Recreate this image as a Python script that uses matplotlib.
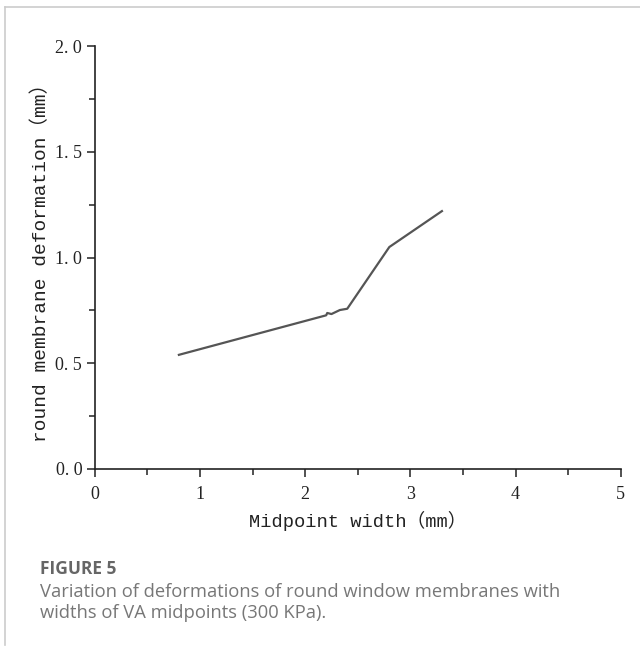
import matplotlib
matplotlib.use("Agg")
import matplotlib.pyplot as plt
from matplotlib.ticker import MultipleLocator
from matplotlib.lines import Line2D

# values
width_mm = [0.8, 2.2, 2.21, 2.25, 2.33, 2.4, 2.8, 3.3]
deform_mm = [0.54, 0.727, 0.738, 0.733, 0.752, 0.758, 1.05, 1.22]

xticks = [0, 1, 2, 3, 4, 5]
yticks = [0.0, 0.5, 1.0, 1.5, 2.0]
ytick_labels = ["0. 0", "0. 5", "1. 0", "1. 5", "2. 0"]

mono = ["Liberation Mono", "Noto Sans CJK SC", "DejaVu Sans"]
serif = ["Liberation Serif", "DejaVu Serif"]

fig = plt.figure(figsize=(6.4, 6.51), dpi=100)
ax = fig.add_axes([0.148, 0.2796, 0.822, 0.6494])

ax.plot(width_mm, deform_mm, color="#555555", lw=1.6)

ax.set_xlim(0, 5)
ax.set_ylim(0, 2.0)
ax.set_xticks(xticks)
ax.set_xticklabels([str(t) for t in xticks], family=serif, fontsize=13)
ax.set_yticks(yticks)
ax.set_yticklabels(ytick_labels, family=serif, fontsize=13)
ax.xaxis.set_minor_locator(MultipleLocator(0.5))
ax.yaxis.set_minor_locator(MultipleLocator(0.25))
ax.tick_params(which="major", direction="out", length=6, width=1.1, color="#222222", labelcolor="#222222")
ax.tick_params(which="minor", direction="out", length=4, width=1.1, color="#222222")
ax.tick_params(axis="x", pad=6)
ax.tick_params(axis="y", pad=3)
for s in ["top", "right"]:
    ax.spines[s].set_visible(False)
for s in ["left", "bottom"]:
    ax.spines[s].set_linewidth(1.2)
    ax.spines[s].set_color("#222222")

ax.set_xlabel("Midpoint width（mm）", family=mono, fontsize=13.5, color="#222222", labelpad=6)
ax.set_ylabel("round membrane deformation（mm）", family=mono, fontsize=14, color="#222222", labelpad=4)

# card border
fig.add_artist(Line2D([0.008, 1.0], [0.989, 0.989], color="#cccccc", lw=1.2, transform=fig.transFigure))
fig.add_artist(Line2D([0.008, 0.008], [0.009, 0.989], color="#cccccc", lw=1.2, transform=fig.transFigure))

fig.text(0.0625, 0.1183, "FIGURE 5", family="Open Sans", fontweight="bold", fontsize=12.5,
         color="#666666", va="baseline")
fig.text(0.0625, 0.0829, "Variation of deformations of round window membranes with",
         family="Open Sans", fontsize=13.2, color="#777777", va="baseline")
fig.text(0.0625, 0.0507, "widths of VA midpoints (300 KPa).",
         family="Open Sans", fontsize=13.2, color="#777777", va="baseline")

fig.savefig("out.png", dpi=100)
